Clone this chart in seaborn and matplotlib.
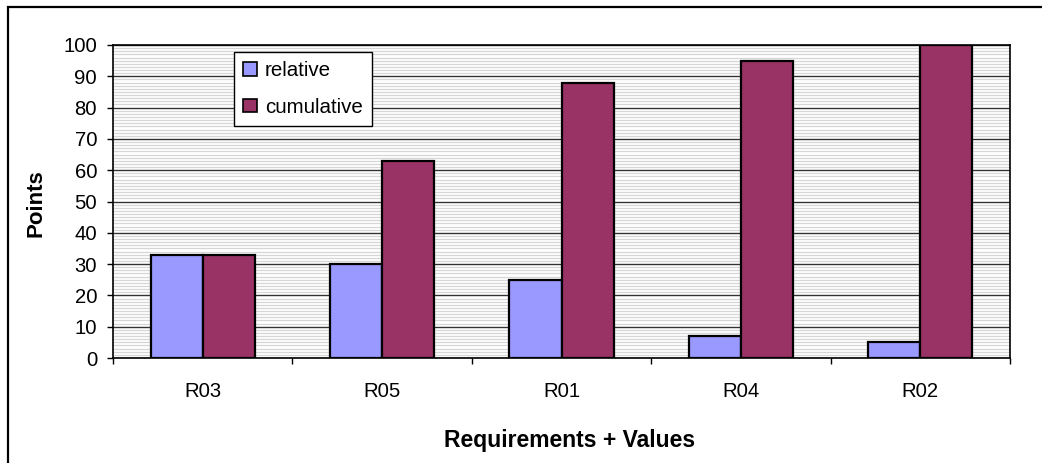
import matplotlib
matplotlib.use("Agg")
import matplotlib.pyplot as plt
from matplotlib.patches import Rectangle
from matplotlib.ticker import MultipleLocator, FixedLocator, NullFormatter, FixedFormatter
import seaborn as sns
import pandas as pd

# Requirements ordered by value, with relative and cumulative points
requirements = ["R03", "R05", "R01", "R04", "R02"]
relative = [33, 30, 25, 7, 5]
cumulative = [33, 63, 88, 95, 100]
series_names = ["relative", "cumulative"]
colors = ["#9999FF", "#993366"]
y_ticks = [0, 10, 20, 30, 40, 50, 60, 70, 80, 90, 100]

df = pd.DataFrame({
    "Requirement": requirements * 2,
    "Points": relative + cumulative,
    "Series": [series_names[0]] * len(requirements) + [series_names[1]] * len(requirements),
})

sns.set_style("white")
plt.rcParams["font.family"] = ["Liberation Sans", "DejaVu Sans"]
plt.rcParams["text.color"] = "black"
plt.rcParams["xtick.color"] = "black"
plt.rcParams["ytick.color"] = "black"

W, H = 1042, 463
fig = plt.figure(figsize=(W / 100, H / 100), dpi=100)
ax = fig.add_axes([113 / W, 1 - 358 / H, (1010 - 113) / W, (358 - 45) / H])

sns.barplot(data=df, x="Requirement", y="Points", hue="Series",
            palette=colors, width=0.58, gap=0, edgecolor="black",
            linewidth=1.6, saturation=1, ax=ax, zorder=3)

ax.set_xlim(-0.5, len(requirements) - 0.5)
ax.set_ylim(0, 100)

# Fine horizontal background pattern plus major gridlines
ax.yaxis.set_major_locator(FixedLocator(y_ticks))
ax.yaxis.set_minor_locator(MultipleLocator(1))
ax.grid(which="minor", axis="y", color="#d6d6d6", linewidth=0.9, zorder=0)
ax.grid(which="major", axis="y", color="#333333", linewidth=1.0, zorder=1)
ax.grid(which="major", axis="x", visible=False)
ax.set_axisbelow(True)

# Category boundaries as ticks, labels centered in each category
n = len(requirements)
ax.xaxis.set_major_locator(FixedLocator([i - 0.5 for i in range(n + 1)]))
ax.xaxis.set_major_formatter(NullFormatter())
ax.xaxis.set_minor_locator(FixedLocator(list(range(n))))
ax.xaxis.set_minor_formatter(FixedFormatter(requirements))
ax.tick_params(axis="x", which="major", direction="out", length=4.5, width=1, color="black", bottom=True)
ax.tick_params(axis="x", which="minor", length=0, pad=17, labelsize=14.6, colors="black", bottom=True)
ax.tick_params(axis="y", which="major", direction="out", length=4.5, width=1, color="black",
               pad=7, labelsize=14.6, labelcolor="black", left=True)
ax.tick_params(axis="y", which="minor", length=0, left=False)

for side in ["left", "right", "top", "bottom"]:
    ax.spines[side].set_visible(True)
    ax.spines[side].set_color("black")
    ax.spines[side].set_linewidth(1.2)

ax.set_xlabel("")
ax.set_ylabel("")

handles, labels = ax.get_legend_handles_labels()
leg = ax.legend(handles, labels, loc="upper left", bbox_to_anchor=(0.135, 0.978),
                fontsize=14.8, frameon=True, fancybox=False, framealpha=1,
                edgecolor="black", handlelength=0.65, handleheight=0.65,
                handletextpad=0.4, labelspacing=0.85, borderpad=0.45,
                borderaxespad=0, labelcolor="black")
leg.get_frame().set_linewidth(1.0)
for h in leg.legend_handles:
    h.set_edgecolor("black")
    h.set_linewidth(1.2)

fig.text(36 / W, 1 - 203 / H, "Points", rotation=90, ha="center", va="center",
         fontsize=16, fontweight="bold", color="black")
fig.text(570 / W, 1 - 440 / H, "Requirements + Values", ha="center", va="center",
         fontsize=16.5, fontweight="bold", color="black")

# Chart frame
fig.patches.append(Rectangle((8 / W, -0.05), 1.1, 1 - 7 / H + 0.05, transform=fig.transFigure,
                             fill=False, edgecolor="black", linewidth=1.6, zorder=0))

fig.savefig("out.png", dpi=100)
